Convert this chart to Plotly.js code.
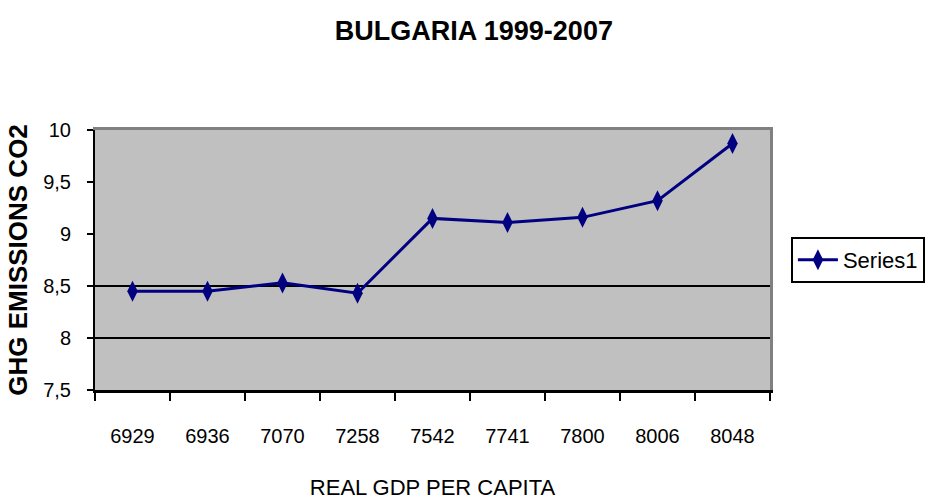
<!DOCTYPE html>
<html>
<head>
<meta charset="utf-8">
<script src="https://cdn.plot.ly/plotly-3.0.1.min.js"></script>
<style>html,body{margin:0;padding:0;background:#fff;}#chart{width:931px;height:501px;}</style>
</head>
<body>
<div id="chart"></div>
<script>
const categories = ["6929", "6936", "7070", "7258", "7542", "7741", "7800", "8006", "8048"];
const emissions = [8.45, 8.45, 8.53, 8.43, 9.15, 9.11, 9.16, 9.32, 9.87];
const seriesName = "Series1";
const gridValues = [8, 8.5];
const yTicks = [7.5, 8, 8.5, 9, 9.5, 10];

const SANS = '"Liberation Sans", Arial, sans-serif';

const data = [{
  x: categories,
  y: emissions,
  name: seriesName,
  type: 'scatter',
  mode: 'lines+markers',
  line: {color: '#000080', width: 3},
  marker: {symbol: 'diamond-tall', size: 15, color: '#000080'}
}, {
  x: [], y: [],
  xaxis: 'x2', yaxis: 'y2',
  type: 'scatter', mode: 'markers',
  showlegend: false, hoverinfo: 'skip'
}];

const layout = {
  width: 931, height: 501,
  margin: {l: 95, r: 161, t: 130, b: 111, autoexpand: false},
  paper_bgcolor: '#ffffff',
  plot_bgcolor: '#c0c0c0',
  separators: ',.',
  title: {text: '<b>BULGARIA 1999-2007</b>', font: {family: SANS, size: 27, color: '#000'}, x: 0.509, xanchor: 'center', xref: 'container', y: 0.94, yanchor: 'middle'},
  xaxis: {
    type: 'category',
    range: [-0.5, 8.5],
    tickson: 'boundaries',
    ticks: 'outside', ticklen: 8, tickwidth: 1.5, tickcolor: '#000',
    showline: true, linecolor: '#000', linewidth: 3,
    showgrid: false, zeroline: false,
    ticklabelstandoff: 26,
    tickfont: {family: SANS, size: 20, color: '#000'},
    title: {text: 'REAL GDP PER CAPITA', font: {family: SANS, size: 22, color: '#000'}, standoff: 34}
  },
  yaxis: {
    range: [7.5, 10],
    tickvals: yTicks,
    tickformat: '.1~f',
    ticks: 'outside', ticklen: 6, tickwidth: 1.5, tickcolor: '#000',
    showline: true, linecolor: '#000', linewidth: 2,
    showgrid: false, zeroline: false,
    ticklabelstandoff: 12,
    tickfont: {family: SANS, size: 20, color: '#000'},
    title: {text: '<b>GHG EMISSIONS CO2</b>', font: {family: SANS, size: 26, color: '#000'}, standoff: 8}
  },
  yaxis2: {
    overlaying: 'y', side: 'right', anchor: 'x2',
    range: [7.5, 10],
    tickvals: gridValues,
    showticklabels: false, ticks: '',
    showgrid: true, gridcolor: '#000', gridwidth: 2,
    showline: true, linecolor: '#808080', linewidth: 3,
    zeroline: false
  },
  xaxis2: {
    overlaying: 'x', side: 'top', anchor: 'y2',
    range: [0, 1],
    showticklabels: false, ticks: '', showgrid: false, zeroline: false,
    showline: true, linecolor: '#808080', linewidth: 3
  },
  showlegend: true,
  legend: {
    x: 1.031, xanchor: 'left', y: 0.5, yanchor: 'middle',
    bordercolor: '#000', borderwidth: 2, bgcolor: '#fff',
    font: {family: SANS, size: 22, color: '#000'},
    itemwidth: 40
  }
};

Plotly.newPlot('chart', data, layout, {displayModeBar: false, staticPlot: true});
</script>
</body>
</html>
